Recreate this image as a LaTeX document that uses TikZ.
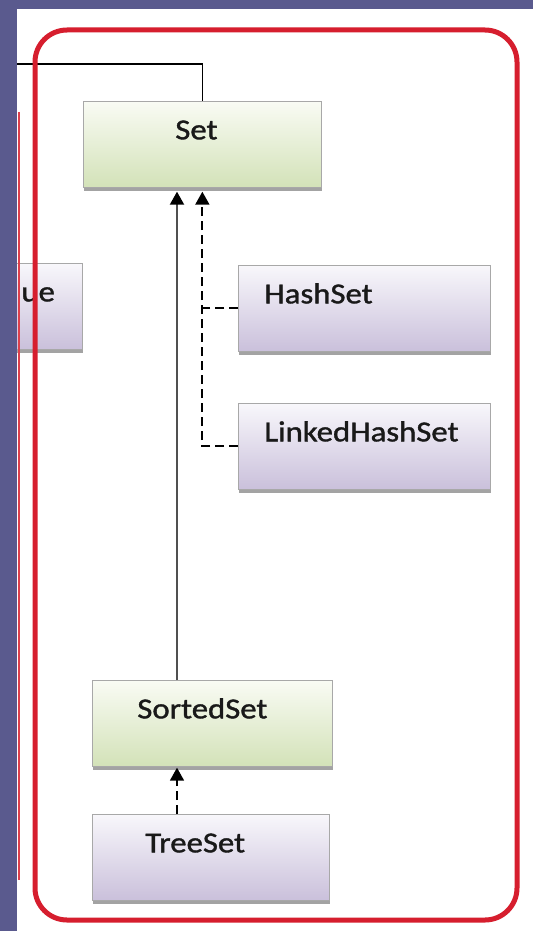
\documentclass[tikz,border=0pt]{standalone}
\usepackage{fontspec}
\setmainfont{Carlito}
\newfontfamily\boxfont[FakeStretch=1.13,FakeBold=1.3]{Carlito}
\usetikzlibrary{arrows.meta,shadows}

\definecolor{slate}{RGB}{90,90,142}
\definecolor{frame}{RGB}{214,30,46}
\definecolor{greenlo}{RGB}{211,226,184}
\definecolor{greenhi}{RGB}{249,251,244}
\definecolor{lilaclo}{RGB}{202,192,219}
\definecolor{lilachi}{RGB}{248,247,251}
\definecolor{boxedge}{RGB}{168,168,168}
\definecolor{linegray}{RGB}{80,80,80}

\begin{document}
\begin{tikzpicture}[x=1pt,y=-1pt,
  classbox/.style={draw=boxedge, line width=0.7pt, inner sep=0pt,
    minimum height=86pt, text height=38pt, text depth=48pt, align=left,
    font=\boxfont\fontsize{29}{31}\selectfont, text=black!90, anchor=north west,
    drop shadow={shadow xshift=0.5pt, shadow yshift=-3.5pt, fill=black!45, opacity=0.8}},
  iface/.style={classbox, top color=greenhi, bottom color=greenlo},
  impl/.style={classbox, top color=lilachi, bottom color=lilaclo},
  tip/.style={-{Triangle[width=14pt,length=13pt,black]}},
  solidlink/.style={tip, draw=linegray, line width=2pt, shorten >=4pt},
  dashlink/.style={draw=black, line width=1.8pt, dash pattern=on 9pt off 5pt},
  feedline/.style={draw=black, line width=1.3pt},
]
\useasboundingbox (0,0) rectangle (533,931);

% page background and white slide area
\fill[slate] (0,0) rectangle (533,931);
\fill[white] (17,9) rectangle (533,931);

% neighbouring box cut off by the slide edge
\begin{scope}
  \clip (17,0) rectangle (533,931);
  \node[impl, text width=141pt] (queue) at (-59,263) {\hspace*{80pt}ue};
\end{scope}
\draw[frame!85, line width=2pt] (18.5,112) -- (18.5,880);

% link coming in from the left
\coordinate (feed) at (17,64);

% interfaces and classes
\node[iface, text width=238pt] (set) at (83,101) {\hspace*{92pt}Set};
\node[impl, text width=252pt] (hs) at (238,265) {\hspace*{26pt}HashSet};
\node[impl, text width=252pt] (lhs) at (238,403) {\hspace*{26pt}LinkedHashSet};
\node[iface, text width=240pt] (sorted) at (92,680) {\hspace*{45pt}SortedSet};
\node[impl, text width=237pt] (tree) at (92,814) {\hspace*{53pt}TreeSet};

\draw[feedline] (feed) -| (set.north);

% connectors
\coordinate (solidx) at (177,0);
\draw[solidlink] (sorted.north -| solidx) -- (set.south -| solidx);
\draw[dashlink] (hs.west) -- (hs.west -| set.south);
\draw[dashlink, tip, shorten >=4pt] (lhs.west) -| (set.south);
\draw[dashlink, tip, shorten >=1pt] (tree.north -| solidx) -- (sorted.south -| solidx);

% red outline around the group
\draw[frame, line width=5pt, rounded corners=32pt] (35,30) rectangle (517,920);
\end{tikzpicture}
\end{document}
